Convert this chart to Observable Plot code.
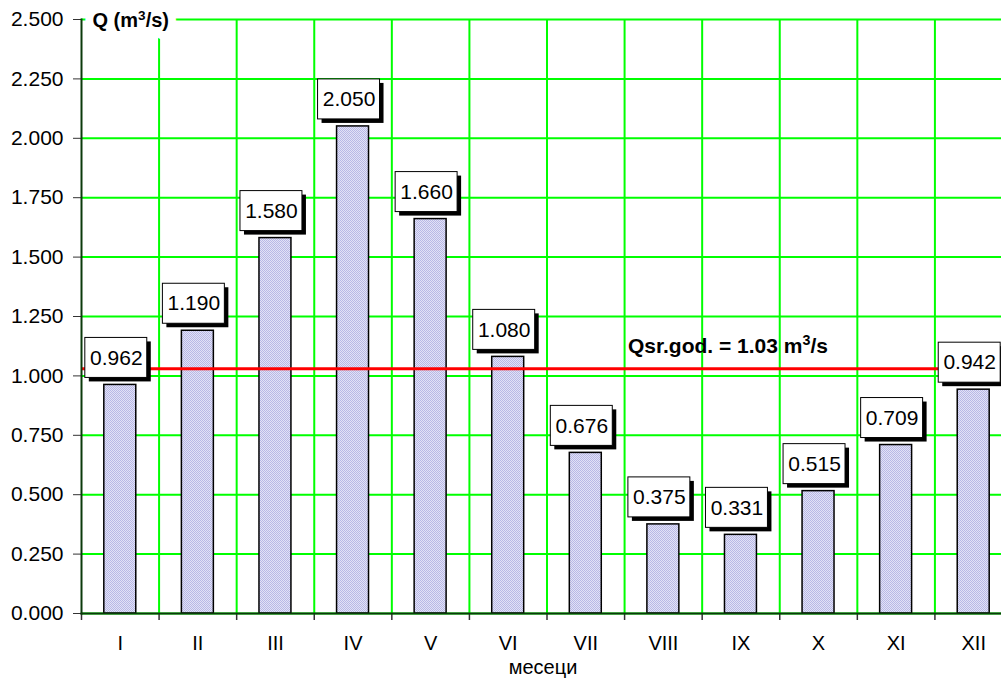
<!DOCTYPE html>
<html>
<head>
<meta charset="utf-8">
<script src="https://cdn.jsdelivr.net/npm/d3@7"></script>
<script src="https://cdn.jsdelivr.net/npm/@observablehq/plot@0.6"></script>
<style>
  html, body { margin: 0; padding: 0; overflow: hidden; background: #fff; }
  #chart svg { max-width: none !important; display: block; }
</style>
</head>
<body>
<div id="chart"></div>
<script>
// Mean monthly discharge (m³/s)
const months = ["I", "II", "III", "IV", "V", "VI", "VII", "VIII", "IX", "X", "XI", "XII"];
const flows = [0.962, 1.190, 1.580, 2.050, 1.660, 1.080, 0.676, 0.375, 0.331, 0.515, 0.709, 0.942];
const annualMean = 1.03;
const yTicks = [0, 0.25, 0.5, 0.75, 1.0, 1.25, 1.5, 1.75, 2.0, 2.25, 2.5];

const data = months.map((m, i) => ({month: m, q: flows[i]}));
const meanRow = [{month: "IX", q: annualMean}];

const W = 1012, H = 678, ML = 81, MR = 0, MT = 19, MB = 65;
const step = (W - ML - MR) / months.length;
const fmt = d3.format(".3f");
const font = "'Liberation Sans', Arial, sans-serif";
const grid = "#00ff00";
const axisColor = "#0b3a0b";
const yTitle = {frameAnchor: "top-left", dx: 11, dy: 1, lineAnchor: "middle", textAnchor: "start",
  fontWeight: "bold", fontSize: 20};

const chart = Plot.plot({
  width: W, height: H,
  marginLeft: ML, marginRight: MR, marginTop: MT, marginBottom: MB,
  style: {fontFamily: font, background: "white", color: "black"},
  x: {domain: months, paddingInner: 0.588, paddingOuter: 0.294, round: false, label: null},
  y: {domain: [0, 2.5], label: null},
  marks: [
    // grid
    Plot.gridY(yTicks, {stroke: grid, strokeOpacity: 1, strokeWidth: 2}),
    Plot.ruleX(months.slice(1), {dx: -step / 2, stroke: grid, strokeWidth: 2}),
    // axes
    Plot.axisY({ticks: yTicks, tickFormat: fmt, tickSize: 8, tickPadding: 10, fontSize: 21, stroke: "#333", label: null}),
    Plot.axisX({tickSize: 0, tickPadding: 22, fontSize: 20, label: null}),
    Plot.ruleX(months, {dx: -step / 2, y1: 0, y2: 0, insetBottom: -7, stroke: "#333", strokeWidth: 1.5}),
    // bars
    Plot.barY(data, {x: "month", y: "q", fill: "url(#hatch)", stroke: "black", strokeWidth: 1.5}),
    // annual mean
    Plot.ruleY([annualMean], {stroke: "#ff0000", strokeWidth: 3}),
    Plot.text(meanRow, {x: "month", y: "q", text: d => `Qsr.god. = ${d.q.toFixed(2)} m³/s`,
      dx: -13, dy: -23, fontSize: 21, fontWeight: "bold", fill: "black"}),
    Plot.frame({anchor: "left", stroke: axisColor, strokeWidth: 2}),
    Plot.frame({anchor: "bottom", stroke: axisColor, strokeWidth: 2}),
    // value labels: shadow, box, text
    Plot.barY(data, {x: "month", y1: "q", y2: "q", insetTop: -47, insetBottom: 7, insetLeft: -19, insetRight: -11,
      fill: "black", dx: 4, dy: 4}),
    Plot.barY(data, {x: "month", y1: "q", y2: "q", insetTop: -47, insetBottom: 7, insetLeft: -19, insetRight: -11,
      fill: "white", stroke: "black", strokeWidth: 1}),
    Plot.text(data, {x: "month", y: "q", text: d => fmt(d.q), dx: -4, dy: -27, fontSize: 21, fill: "black"}),
    // y title on a white backing
    Plot.text(["Q (m³/s)"], {...yTitle, fill: "white", stroke: "white", strokeWidth: 16}),
    Plot.text(["Q (m³/s)"], {...yTitle, fill: "black"}),
    Plot.text(["месеци"], {frameAnchor: "bottom", lineAnchor: "bottom", dy: 60, dx: -4, fontSize: 20, fill: "black"})
  ]
});

// larger raised "3" in the unit labels
d3.select(chart).selectAll("text").filter(function() {
  return this.children.length === 0 && this.textContent.includes("³");
}).each(function() {
  const [before, after] = this.textContent.split("³");
  const t = d3.select(this).text("");
  t.append("tspan").text(before);
  t.append("tspan").attr("font-size", "0.68em").attr("dy", "-0.5em").text("3");
  t.append("tspan").attr("dy", "0.34em").text(after);
});

// fine checker texture for the bars
d3.select(chart).insert("defs", ":first-child").html(`
  <pattern id="hatch" width="2" height="2" patternUnits="userSpaceOnUse">
    <rect width="2" height="2" fill="#e2e2f6"/>
    <rect width="1" height="1" fill="#b8b8e6"/>
    <rect x="1" y="1" width="1" height="1" fill="#b8b8e6"/>
  </pattern>`);

document.getElementById("chart").appendChild(chart);
</script>
</body>
</html>
